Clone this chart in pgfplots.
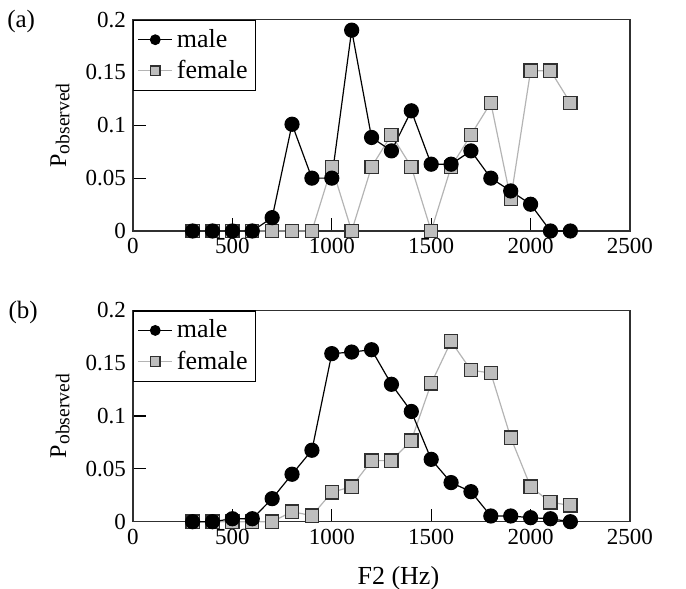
\documentclass[border=0pt]{standalone}
\usepackage{pgfplots}
\pgfplotsset{compat=1.18}
\usepackage{fontspec}
\setmainfont{Liberation Serif}
\definecolor{fgray}{HTML}{BEBEBE}
\definecolor{lgray}{HTML}{B4B4B4}
\definecolor{axgray}{HTML}{303030}
\pgfplotsset{
  panel/.style={
    scale only axis, width=248.5pt, height=105.7pt,
    xmin=0, xmax=2500, ymin=0, ymax=0.2,
    xtick={0,500,1000,1500,2000,2500},
    ytick={0,0.05,0.1,0.15,0.2},
    yticklabels={0,0.05,0.1,0.15,0.2},
    tick align=inside, xtick pos=bottom, ytick pos=left,
    major tick length=6.5pt,
    tick style={black, line width=0.6pt},
    axis line style={axgray, line width=0.6pt},
    /pgf/number format/assume math mode=true,
    /pgf/number format/1000 sep={},
    tick label style={font=\fontsize{11.5}{13}\selectfont},
    scaled y ticks=false,
    clip=false,
    ylabel={\fontsize{12}{13}\selectfont P\raisebox{-1.6pt}{\fontsize{9.8}{11}\selectfont observed}},
    ylabel style={at={(axis description cs:-0.147,0.5)}, anchor=center},
    legend style={at={(axis description cs:0,1)}, anchor=north west, draw=black, fill=white,
      inner xsep=2pt, inner ysep=2.5pt, row sep=1pt, line width=0.6pt, font=\fontsize{13}{15}\selectfont},
    legend cell align=left,
    reverse legend,
    legend image post style={mark size=2.4pt},
  },
  maleplot/.style={black, line width=0.6pt, mark=*, mark size=3.5pt, mark options={fill=black, draw=black}},
  femaleplot/.style={lgray, line width=0.6pt, mark=square*, mark size=3.3pt, mark options={fill=fgray, draw=axgray, line width=0.6pt}},
}
\begin{document}
\begin{tikzpicture}[font=\fontsize{11.5}{13}\selectfont]
\useasboundingbox (-66.5pt,-33.65pt) rectangle (276.5pt,260.85pt);
\begin{axis}[panel, at={(0pt,145.35pt)}, anchor=south west]
\addplot[femaleplot] coordinates {
(300,0) (400,0) (500,0) (600,0) (700,0) (800,0) (900,0)
(1000,0.0607) (1100,0) (1200,0.0607) (1300,0.091) (1400,0.0607)
(1500,0) (1600,0.0607) (1700,0.091) (1800,0.1213) (1900,0.030)
(2000,0.1517) (2100,0.1517) (2200,0.1213)};
\addplot[maleplot] coordinates {
(300,0) (400,0) (500,0) (600,0) (700,0.0126) (800,0.101) (900,0.050)
(1000,0.050) (1100,0.19) (1200,0.0885) (1300,0.0758) (1400,0.1137)
(1500,0.0632) (1600,0.0632) (1700,0.0758) (1800,0.050) (1900,0.0379)
(2000,0.0253) (2100,0) (2200,0)};
\legend{female,male}
\node[font=\fontsize{12.5}{14}\selectfont] at (axis description cs:-0.225,0.99) {(a)};
\end{axis}
\begin{axis}[panel, at={(0pt,0pt)}, anchor=south west,
  xlabel={F2 (Hz)},
  xlabel style={at={(axis description cs:0.534,-0.266)}, anchor=center, font=\fontsize{13}{15}\selectfont}]
\addplot[femaleplot] coordinates {
(300,0) (400,0) (500,0) (600,0) (700,0) (800,0.0095) (900,0.0057)
(1000,0.0278) (1100,0.0332) (1200,0.0578) (1300,0.0578) (1400,0.0768)
(1500,0.1308) (1600,0.1706) (1700,0.1434) (1800,0.1406) (1900,0.0796)
(2000,0.0332) (2100,0.0183) (2200,0.0155)};
\addplot[maleplot] coordinates {
(300,0) (400,0) (500,0.0028) (600,0.0028) (700,0.0218) (800,0.0449) (900,0.0676)
(1000,0.159) (1100,0.1605) (1200,0.1627) (1300,0.130) (1400,0.1043)
(1500,0.059) (1600,0.037) (1700,0.0284) (1800,0.0054) (1900,0.0054)
(2000,0.0038) (2100,0.0028) (2200,0)};
\legend{female,male}
\node[font=\fontsize{12.5}{14}\selectfont] at (axis description cs:-0.221,0.99) {(b)};
\end{axis}
\end{tikzpicture}
\end{document}
